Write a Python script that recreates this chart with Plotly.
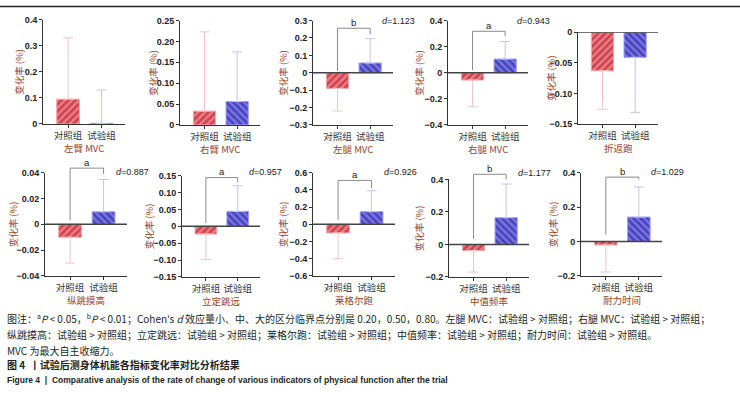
import plotly.graph_objects as go

# ---------------- data ----------------
categories = ["对照组", "试验组"]
panel_titles = ["左臂 MVC", "右臂 MVC", "左腿 MVC", "右腿 MVC", "折返跑",
                "纵跳摸高", "立定跳远", "莱格尔跑", "中值频率", "耐力时间"]
control_mean = [0.095, 0.033, -0.090, -0.056, -0.063, -0.010, -0.023, -0.100, -0.037, -0.020]
control_err = [0.235, 0.190, 0.130, 0.204, 0.063, 0.020, 0.075, 0.300, 0.133, 0.157]
trial_mean = [0.002, 0.056, 0.056, 0.105, -0.041, 0.0097, 0.044, 0.147, 0.165, 0.142]
trial_err = [0.128, 0.119, 0.140, 0.135, 0.090, 0.025, 0.076, 0.243, 0.207, 0.175]
sig_labels = [None, None, "b", "a", None, "a", "a", "a", "b", "b"]
bracket_top = [None, None, 0.256, 0.318, None, 0.0435, 0.144, 0.51, 0.432, 0.374]
bracket_left = [None, None, 0.01, 0.02, None, 0.003, 0.01, 0.05, 0.035, 0.04]
bracket_right = [None, None, 0.22, 0.28, None, 0.039, 0.13, 0.42, 0.40, 0.36]
cohen_d = [None, None, "1.123", "0.943", None, "0.887", "0.957", "0.926", "1.177", "1.029"]

ytick_vals = [
    [0, 0.1, 0.2, 0.3, 0.4],
    [0, 0.05, 0.10, 0.15, 0.20, 0.25],
    [-0.3, -0.2, -0.1, 0, 0.1, 0.2, 0.3],
    [-0.4, -0.2, 0, 0.2, 0.4],
    [-0.15, -0.10, -0.05, 0],
    [-0.04, -0.02, 0, 0.02, 0.04],
    [-0.15, -0.10, -0.05, 0, 0.05, 0.10, 0.15],
    [-0.6, -0.4, -0.2, 0, 0.2, 0.4, 0.6],
    [-0.2, 0, 0.2, 0.4],
    [-0.2, 0, 0.2, 0.4],
]
ytick_text = [
    ["0", "0.1", "0.2", "0.3", "0.4"],
    ["0", "0.05", "0.10", "0.15", "0.20", "0.25"],
    ["−0.3", "−0.2", "−0.1", "0", "0.1", "0.2", "0.3"],
    ["−0.4", "−0.2", "0", "0.2", "0.4"],
    ["−0.15", "−0.10", "−0.05", "0"],
    ["−0.04", "−0.02", "0", "0.02", "0.04"],
    ["−0.15", "−0.10", "−0.05", "0", "0.05", "0.10", "0.15"],
    ["−0.6", "−0.4", "−0.2", "0", "0.2", "0.4", "0.6"],
    ["−0.2", "0", "0.2", "0.4"],
    ["−0.2", "0", "0.2", "0.4"],
]
y_label = "变化率 (%)"
caption_lines = [
    "图注：<sup>a</sup><i>P</i> &lt; 0.05，<sup>b</sup><i>P</i> &lt; 0.01；Cohen's <i>d</i> 效应量小、中、大的区分临界点分别是 0.20，0.50，0.80。左腿 MVC：试验组 &gt; 对照组；右腿 MVC：试验组 &gt; 对照组；",
    "纵跳摸高：试验组 &gt; 对照组；立定跳远：试验组 &gt; 对照组；莱格尔跑：试验组 &gt; 对照组；中值频率：试验组 &gt; 对照组；耐力时间：试验组 &gt; 对照组。",
    "MVC 为最大自主收缩力。",
]
fig_title_cn = "图 4  丨试验后测身体机能各指标变化率对比分析结果"
fig_title_en = "Figure 4  |  Comparative analysis of the rate of change of various indicators of physical function after the trial"

# ---------------- layout geometry (pixels) ----------------
W, H = 740, 396
boxes = [(43, 125, 15, 122), (180, 260, 16, 123), (313, 393, 16, 123), (448, 528, 16, 123), (578, 658, 28, 122),
         (45, 127, 172, 278), (182, 260, 175, 279), (313, 395, 172, 278), (449, 529, 179, 279), (581, 662, 172, 278)]
ylab_off = [24, 27, 30, 29, 27, 32, 33, 30, 30, 28]
d_text_y = [16, 16, 16, 16, 16, 171, 171, 171, 172, 171]
caption_y = [322, 338, 354, 369, 385]
EXT = 24

CJK = "Noto Sans CJK SC"
LAT = "Liberation Sans"
TXT_BROWN = "#9a4424"
AX = "#333333"

fig = go.Figure()
layout = {}
annotations = []
shapes = [dict(type="line", xref="paper", yref="paper", x0=0, x1=1,
               y0=1 - 1.5 / H, y1=1 - 1.5 / H, line=dict(color="#222222", width=1.5))]
extra = 11

for i in range(10):
    n = "" if i == 0 else str(i + 1)
    xa, ya = "x" + n, "y" + n
    L, R, T, B = boxes[i]
    ymin, ymax = min(ytick_vals[i]), max(ytick_vals[i])

    c_up = control_err[i] if control_mean[i] >= 0 else 0
    c_dn = control_err[i] if control_mean[i] < 0 else 0
    t_up = trial_err[i] if trial_mean[i] >= 0 else 0
    t_dn = trial_err[i] if trial_mean[i] < 0 else 0

    fig.add_trace(go.Bar(
        x=[categories[0]], y=[control_mean[i]], xaxis=xa, yaxis=ya, width=0.68,
        marker=dict(color="#f07a84", line=dict(color="#f5a2a7", width=1),
                    pattern=dict(shape="/", fgcolor="#9c0e1a", size=5, solidity=0.5, fillmode="overlay")),
        error_y=dict(type="data", symmetric=False, array=[c_up], arrayminus=[c_dn],
                     color="#f3c3c6", thickness=1, width=5),
        showlegend=False, hoverinfo="skip"))
    fig.add_trace(go.Bar(
        x=[categories[1]], y=[trial_mean[i]], xaxis=xa, yaxis=ya, width=0.68,
        marker=dict(color="#7673ec", line=dict(color="#9d9bf4", width=1),
                    pattern=dict(shape="\\", fgcolor="#1a1570", size=5, solidity=0.5, fillmode="overlay")),
        error_y=dict(type="data", symmetric=False, array=[t_up], arrayminus=[t_dn],
                     color="#c6c5ef", thickness=1, width=5),
        showlegend=False, hoverinfo="skip"))

    layout["xaxis" + n] = dict(
        domain=[L / W, R / W], anchor=ya, type="category",
        categoryorder="array", categoryarray=categories, range=[-0.75, 1.7],
        showline=True, linecolor=AX, linewidth=1, ticks="outside", ticklen=3,
        tickcolor=AX, tickfont=dict(family=CJK, size=9.5, color="#333333"),
        showgrid=False, zeroline=False, fixedrange=True)
    layout["yaxis" + n] = dict(
        domain=[1 - B / H, 1 - T / H], anchor=xa, range=[ymin, ymax],
        tickmode="array", tickvals=ytick_vals[i], ticktext=ytick_text[i],
        showline=True, linecolor=AX, linewidth=1, ticks="outside", ticklen=3,
        tickcolor=AX, tickfont=dict(family=LAT, size=9, color="#222222", weight="bold"),
        showgrid=False, zeroline=False, fixedrange=True)

    if ymin < 0:
        shapes.append(dict(type="line", xref=xa + " domain", yref=ya, x0=0, x1=1, y0=0, y1=0,
                           layer="above", line=dict(color="#444444", width=1.5)))

    # y-axis title
    annotations.append(dict(
        text=y_label, xref="paper", yref="paper", x=(L - ylab_off[i]) / W,
        y=1 - (T + B) / 2 / H, textangle=-90, showarrow=False,
        xanchor="center", yanchor="middle",
        font=dict(family=CJK, size=9.5, color=TXT_BROWN)))
    # panel title
    annotations.append(dict(
        text=panel_titles[i], xref="paper", yref="paper", x=(L + R) / 2 / W,
        y=1 - (B + 25) / H, showarrow=False, xanchor="center", yanchor="middle",
        font=dict(family=CJK, size=9.5, color=TXT_BROWN)))

    if sig_labels[i] is not None:
        yb = "y" + str(extra)
        yb_key = "yaxis" + str(extra)
        extra += 1
        ext = min(EXT, T - 1)
        span = (ymax - ymin) * ext / (B - T)
        layout[yb_key] = dict(domain=[1 - B / H, 1 - (T - ext) / H], anchor=xa,
                              range=[ymin, ymax + span], visible=False, fixedrange=True)
        fig.add_trace(go.Scatter(
            x=[categories[0], categories[0], categories[1], categories[1]],
            y=[bracket_left[i], bracket_top[i], bracket_top[i], bracket_right[i]],
            xaxis=xa, yaxis=yb, mode="lines", line=dict(color="#8a8a8a", width=1),
            showlegend=False, hoverinfo="skip"))
        annotations.append(dict(
            text=sig_labels[i], xref=xa, yref=yb, x=0.5, y=bracket_top[i], yshift=6,
            showarrow=False, xanchor="center", yanchor="middle",
            font=dict(family=LAT, size=9.5, color="#222222")))
        annotations.append(dict(
            text="<i>d</i>=" + cohen_d[i], xref="paper", yref="paper",
            x=(R - 13) / W, y=1 - d_text_y[i] / H, showarrow=False,
            xanchor="left", yanchor="middle",
            font=dict(family=LAT, size=9, color="#222222")))

for k, line in enumerate(caption_lines):
    annotations.append(dict(
        text=line, xref="paper", yref="paper", x=5 / W, y=1 - caption_y[k] / H,
        showarrow=False, xanchor="left", yanchor="middle",
        font=dict(family=CJK, size=10, color="#231f20")))
annotations.append(dict(
    text="<b>" + fig_title_cn + "</b>", xref="paper", yref="paper", x=5 / W, y=1 - caption_y[3] / H,
    showarrow=False, xanchor="left", yanchor="middle",
    font=dict(family=CJK, size=10, color="#231f20")))
annotations.append(dict(
    text="<b>" + fig_title_en + "</b>", xref="paper", yref="paper", x=5 / W, y=1 - caption_y[4] / H,
    showarrow=False, xanchor="left", yanchor="middle",
    font=dict(family=LAT, size=8.5, color="#231f20")))

fig.update_layout(
    width=W, height=H, margin=dict(l=0, r=0, t=0, b=0),
    paper_bgcolor="white", plot_bgcolor="rgba(0,0,0,0)", barmode="overlay",
    showlegend=False, annotations=annotations, shapes=shapes,
    **layout)

fig.write_html("out.html", config={"displayModeBar": False, "staticPlot": True},
               post_script="document.body.style.margin='0';document.body.style.overflow='hidden';")
